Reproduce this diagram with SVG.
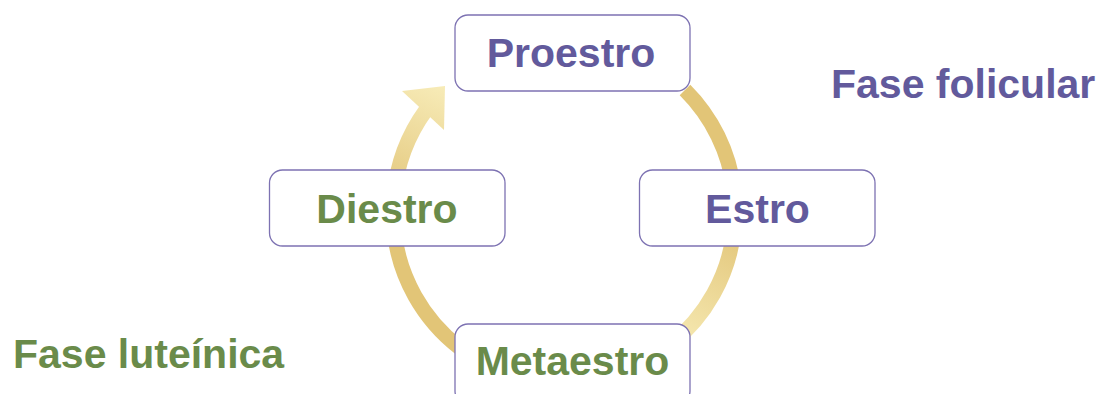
<svg xmlns="http://www.w3.org/2000/svg" width="1098" height="394" viewBox="0 0 1098 394">
  <style>
    .box { fill: #ffffff; stroke: #7d72b2; stroke-width: 1.3; }
    .lbl { font-family: "Liberation Sans", Arial, sans-serif; font-weight: bold; font-size: 41px; }
    .purple { fill: #625a9c; }
    .green { fill: #6a8b4a; }
    .arc { fill: none; stroke-width: 15; }
  </style>
  <defs>
    <linearGradient id="gArrow" gradientUnits="userSpaceOnUse" x1="445" y1="88" x2="395" y2="200">
      <stop offset="0" stop-color="#f7ebb7"/>
      <stop offset="1" stop-color="#e3c77c"/>
    </linearGradient>
    <linearGradient id="gRB" gradientUnits="userSpaceOnUse" x1="734" y1="230" x2="672" y2="340">
      <stop offset="0" stop-color="#e3c77c"/>
      <stop offset="1" stop-color="#f6e9b2"/>
    </linearGradient>
  </defs>
  <g id="connectors">
    <path class="arc" stroke="#e2c577" d="M 685 90 A 171 171 0 0 1 734 190"/>
    <path class="arc" stroke="url(#gRB)" d="M 734 230 A 171 171 0 0 1 670 345"/>
    <path class="arc" stroke="#e2c577" d="M 460 348 A 171 171 0 0 1 394 230"/>
    <path class="arc" stroke="url(#gArrow)" d="M 394 196 A 171 171 0 0 1 426 110"/>
    <polygon fill="url(#gArrow)" points="402,91 445,86 444,130"/>
  </g>
  <g id="node-proestro">
    <rect class="box" x="455" y="15" width="235" height="76" rx="13"/>
    <text class="lbl purple" x="571" y="67" text-anchor="middle">Proestro</text>
  </g>
  <g id="node-estro">
    <rect class="box" x="639.5" y="170" width="235.5" height="76" rx="13"/>
    <text class="lbl purple" x="757.5" y="223" text-anchor="middle">Estro</text>
  </g>
  <g id="node-diestro">
    <rect class="box" x="269.5" y="170" width="235.5" height="76" rx="13"/>
    <text class="lbl green" x="387" y="223" text-anchor="middle">Diestro</text>
  </g>
  <g id="node-metaestro">
    <rect class="box" x="455" y="324" width="235" height="80" rx="13"/>
    <text class="lbl green" x="572.5" y="375" text-anchor="middle">Metaestro</text>
  </g>
  <g id="label-folicular">
    <text class="lbl purple" x="831" y="98">Fase folicular</text>
  </g>
  <g id="label-luteinica">
    <text class="lbl green" x="13" y="368">Fase luteínica</text>
  </g>
</svg>
